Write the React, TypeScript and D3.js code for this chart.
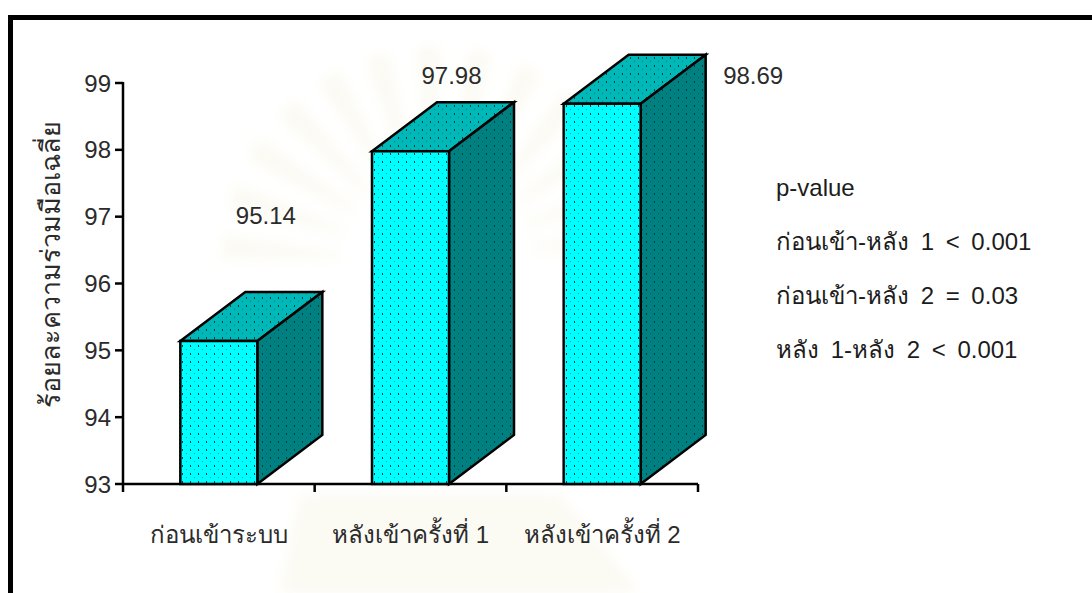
import React from "react";
import * as d3 from "d3";

const WIDTH = 1092;
const HEIGHT = 593;

// Chart data
const categories = ["ก่อนเข้าระบบ", "หลังเข้าครั้งที่ 1", "หลังเข้าครั้งที่ 2"];
const meanScores = [95.14, 97.98, 98.69];
const yTicks = [93, 94, 95, 96, 97, 98, 99];
const yTitle = "ร้อยละความร่วมมือเฉลี่ย";
const pValueNotes = ["p-value", "ก่อนเข้า-หลัง 1 < 0.001", "ก่อนเข้า-หลัง 2 = 0.03", "หลัง 1-หลัง 2 < 0.001"];

// Value-label placement relative to each bar's band
const labelNudges = [
  { dx: 47, y: 224 },
  { dx: 41, y: 84 },
  { dx: 151, y: 84 },
];

const FONT = "'Liberation Sans', 'Noto Sans', Arial, sans-serif";
const INK = "#2b2b2b";
const LATIN_SIZE = 24;
const THAI_SIZE = 24;
const DEPTH_X = 65;
const DEPTH_Y = 49;
const BAR_WIDTH = 77;
const LINE_WIDTH = 2.5;

const x = d3.scaleBand<string>().domain(categories).range([123, 698]);
const y = d3.scaleLinear().domain([93, 99]).range([484, 83]);

const poly = d3.line<[number, number]>();

// Thai glyphs come from a fallback face with its own proportions,
// so each run of a mixed string gets its own size.
function MixedRuns({ text, thaiSize = THAI_SIZE, latinSize = LATIN_SIZE }: { text: string; thaiSize?: number; latinSize?: number }) {
  const runs = text.match(/[\u0E00-\u0E7F]+|[^\u0E00-\u0E7F]+/g) ?? [];
  return (
    <>
      {runs.map((r, i) => (
        <tspan key={i} fontSize={/[\u0E00-\u0E7F]/.test(r) ? thaiSize : latinSize}>
          {r}
        </tspan>
      ))}
    </>
  );
}

function DotPattern({ id, base, light }: { id: string; base: string; light: string }) {
  return (
    <pattern id={id} width={8} height={8} patternUnits="userSpaceOnUse" x={182} y={1}>
      <rect width={8} height={8} fill={base} />
      <rect x={0} y={0} width={1} height={2} fill="#053c3c" />
      <rect x={4} y={4} width={1} height={1} fill={light} />
    </pattern>
  );
}

// Pale crest printed behind the chart: a fan of rays above a faint base block
function Crest() {
  const cx = 436;
  const cy = 262;
  const angles = d3.range(-176, -3, 14);
  return (
    <g fill="#fbfaf3" filter="url(#crestBlur)">
      {angles.map((a) => {
        const r0 = 95;
        const r1 = 215;
        const t = (a * Math.PI) / 180;
        const w = 0.055;
        const pts: [number, number][] = [
          [cx + r0 * Math.cos(t - w * 0.6), cy + r0 * Math.sin(t - w * 0.6)],
          [cx + r1 * Math.cos(t - w), cy + r1 * Math.sin(t - w)],
          [cx + r1 * Math.cos(t + w), cy + r1 * Math.sin(t + w)],
          [cx + r0 * Math.cos(t + w * 0.6), cy + r0 * Math.sin(t + w * 0.6)],
        ];
        return <path key={a} d={poly(pts) + "Z"} />;
      })}
      <path d="M300 495 L560 495 L640 593 L280 593 Z" />
    </g>
  );
}

export default function App() {
  return (
    <svg
      width={WIDTH}
      height={HEIGHT}
      viewBox={`0 0 ${WIDTH} ${HEIGHT}`}
      style={{ position: "absolute", left: 0, top: 0, background: "#fff" }}
      fontFamily={FONT}
    >
      <defs>
        <filter id="crestBlur" x="-20%" y="-20%" width="140%" height="140%">
          <feGaussianBlur stdDeviation={7} />
        </filter>
        <DotPattern id="dotsFront" base="#00ffff" light="#00a8a8" />
        <DotPattern id="dotsTop" base="#00b8b8" light="#007a7a" />
        <DotPattern id="dotsSide" base="#008080" light="#005a5a" />
      </defs>

      <Crest />

      {/* Open frame: left and top rules only */}
      <rect x={8} y={15} width={5} height={HEIGHT - 15} fill="#000" />
      <rect x={8} y={15} width={WIDTH - 8} height={5} fill="#000" />

      {/* Axes */}
      <g stroke="#000" strokeWidth={LINE_WIDTH} fill="none">
        <line x1={x.range()[0]} x2={x.range()[1]} y1={y(93)} y2={y(93)} />
        <line x1={123} x2={123} y1={y(99) - 1} y2={y(93) + 8} />
        {yTicks.map((t) => (
          <line key={t} x1={115} x2={123} y1={y(t)} y2={y(t)} />
        ))}
        {categories.map((c) => (
          <line key={c} x1={x(c)! + x.bandwidth()} x2={x(c)! + x.bandwidth()} y1={y(93)} y2={y(93) + 8} />
        ))}
      </g>

      {yTicks.map((t) => (
        <text key={t} x={111} y={y(t) + 8.5} textAnchor="end" fontSize={LATIN_SIZE} fill={INK}>
          {t}
        </text>
      ))}

      <text transform="translate(60,264) rotate(-90)" textAnchor="middle" fontSize={27} fill={INK}>
        {yTitle}
      </text>

      {/* Extruded bars */}
      {categories.map((c, i) => {
        const left = x(c)! + (x.bandwidth() - BAR_WIDTH) / 2;
        const right = left + BAR_WIDTH;
        const top = y(meanScores[i]);
        const base = y(93);
        const front: [number, number][] = [[left, base], [left, top], [right, top], [right, base]];
        const roof: [number, number][] = [
          [left, top],
          [left + DEPTH_X, top - DEPTH_Y],
          [right + DEPTH_X, top - DEPTH_Y],
          [right, top],
        ];
        const side: [number, number][] = [
          [right, top],
          [right + DEPTH_X, top - DEPTH_Y],
          [right + DEPTH_X, base - DEPTH_Y],
          [right, base],
        ];
        return (
          <g key={c} stroke="#000" strokeWidth={LINE_WIDTH} strokeLinejoin="miter">
            <path d={poly(roof) + "Z"} fill="url(#dotsTop)" />
            <path d={poly(side) + "Z"} fill="url(#dotsSide)" />
            <path d={poly(front) + "Z"} fill="url(#dotsFront)" />
          </g>
        );
      })}

      {/* Value labels */}
      {categories.map((c, i) => (
        <text
          key={c}
          x={x(c)! + x.bandwidth() / 2 + labelNudges[i].dx}
          y={labelNudges[i].y}
          textAnchor="middle"
          fontSize={LATIN_SIZE}
          fill={INK}
        >
          {meanScores[i].toFixed(2)}
        </text>
      ))}

      {/* Category labels */}
      {categories.map((c) => (
        <text key={c} x={x(c)! + x.bandwidth() / 2} y={543} textAnchor="middle" fill={INK}>
          <MixedRuns text={c} />
        </text>
      ))}

      {/* Significance notes */}
      {pValueNotes.map((line, i) => (
        <text key={line} x={776} y={196 + i * 54} fill="#1c1c1c" wordSpacing={5}>
          <MixedRuns text={line} />
        </text>
      ))}
    </svg>
  );
}
